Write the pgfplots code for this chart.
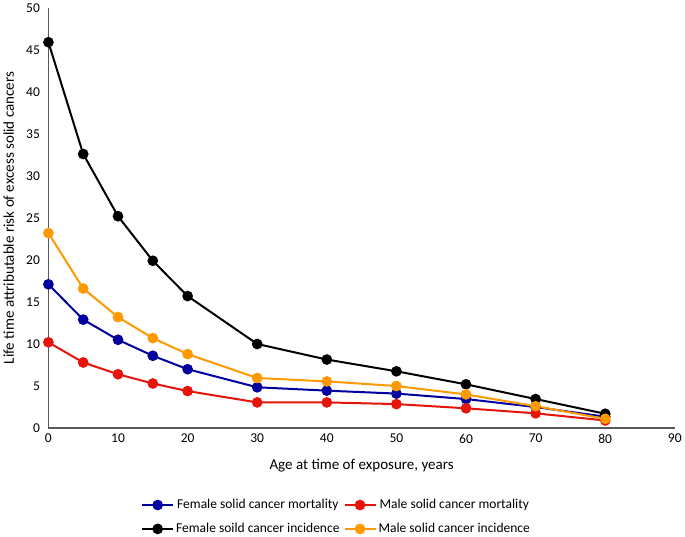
\documentclass[border=0pt]{standalone}
\usepackage{fontspec}
\setmainfont{Carlito}
\usepackage{pgfplots}
\pgfplotsset{compat=1.18}
\definecolor{fblue}{RGB}{0,0,160}
\definecolor{mred}{RGB}{230,20,10}
\definecolor{morange}{RGB}{255,153,0}
\definecolor{axgray}{RGB}{89,89,89}
\begin{document}
\begin{tikzpicture}
\begin{axis}[
  scale only axis,
  width=626pt, height=420pt,
  xmin=0, xmax=90, ymin=0, ymax=50,
  xtick={0,10,...,90}, ytick={0,5,...,50},
  axis x line*=bottom, axis y line*=left,
  axis line style={axgray, line width=1.2pt},
  major tick length=0pt,
  tick label style={font=\fontsize{13.5}{15}\selectfont},
  xticklabel style={yshift=-2.5pt},
  yticklabel style={xshift=-5pt},
  /pgf/number format/assume math mode=true,
  xlabel={Age at time of exposure, years},
  ylabel={Life time attributable risk of excess solid cancers},
  label style={font=\fontsize{15}{17}\selectfont},
  xlabel style={at={(axis description cs:0.5,-0.09)}, anchor=center},
  ylabel style={at={(axis description cs:-0.0495,0.5)}, anchor=south},
  legend columns=2,
  legend style={draw=none, fill=none, at={(0.46,-0.165)}, anchor=north,
    font=\fontsize{13.5}{16}\selectfont,
    /tikz/every even column/.append style={column sep=2pt},
    row sep=9pt, inner sep=0pt},
  legend image code/.code={
    \draw[#1, mark=none, line width=2pt] (0pt,0pt) -- (31pt,0pt);
    \draw[#1] plot[only marks] coordinates {(15.5pt,0pt)};},
  every axis plot/.append style={line width=2pt, mark=*, mark size=4.3pt},
]
\addplot[color=fblue, mark options={fill=fblue}] coordinates {
(0,17.1) (5,12.9) (10,10.5) (15,8.6) (20,7.0) (30,4.85) (40,4.45) (50,4.1) (60,3.45) (70,2.5) (80,1.35)};
\addlegendentry{Female solid cancer mortality}
\addplot[color=mred, mark options={fill=mred}] coordinates {
(0,10.2) (5,7.8) (10,6.4) (15,5.3) (20,4.4) (30,3.05) (40,3.05) (50,2.85) (60,2.35) (70,1.75) (80,0.9)};
\addlegendentry{Male solid cancer mortality}
\addplot[color=black, mark options={fill=black}] coordinates {
(0,45.9) (5,32.6) (10,25.2) (15,19.9) (20,15.7) (30,10.0) (40,8.15) (50,6.75) (60,5.2) (70,3.45) (80,1.7)};
\addlegendentry{Female soild cancer incidence}
\addplot[color=morange, mark options={fill=morange}] coordinates {
(0,23.2) (5,16.6) (10,13.2) (15,10.7) (20,8.8) (30,5.95) (40,5.55) (50,5.0) (60,4.0) (70,2.6) (80,1.1)};
\addlegendentry{Male solid cancer incidence}
\end{axis}
\end{tikzpicture}
\end{document}
